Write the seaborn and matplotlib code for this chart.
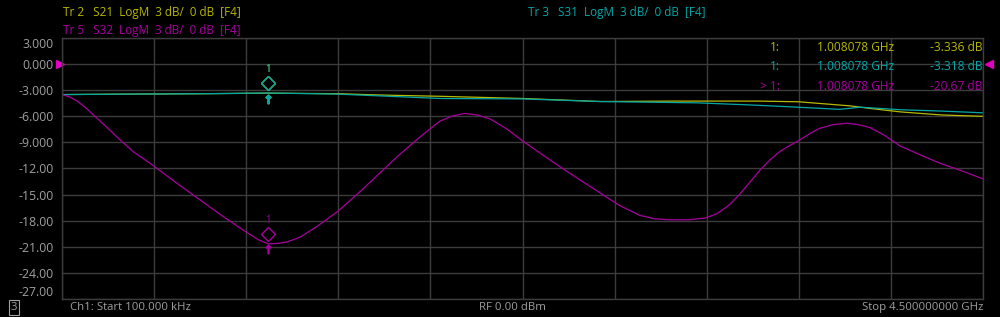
import numpy as np
import pandas as pd
import matplotlib
matplotlib.use("Agg")
import matplotlib.pyplot as plt
import matplotlib.transforms as mtransforms
import seaborn as sns

# ---------------- data ----------------
freq_s21 = [0.0001, 0.3, 0.7, 1.008078, 1.35, 1.55, 1.85, 2.25, 2.63, 3.0, 3.4, 3.6, 3.85, 3.95, 4.1, 4.3, 4.5]
s21_db = [-3.5, -3.45, -3.4, -3.336, -3.4, -3.55, -3.7, -3.95, -4.3, -4.25, -4.25, -4.33, -4.8, -5.1, -5.5, -5.85, -6.0]

freq_s31 = [0.0001, 0.3, 0.7, 1.008078, 1.35, 1.55, 1.85, 2.25, 2.63, 3.1, 3.37, 3.55, 3.8, 3.9, 4.1, 4.3, 4.5]
s31_db = [-3.5, -3.45, -3.4, -3.318, -3.45, -3.65, -3.95, -4.0, -4.3, -4.45, -4.7, -4.9, -5.2, -4.95, -5.25, -5.4, -5.6]

freq_s32 = [0.0001, 0.04, 0.072, 0.12, 0.17, 0.23, 0.283, 0.35, 0.43, 0.55, 0.674, 0.78, 0.899, 0.96,
            1.008078, 1.06, 1.10, 1.163, 1.25, 1.349, 1.45, 1.554, 1.64, 1.725, 1.79, 1.847, 1.91,
            1.969, 2.03, 2.091, 2.17, 2.252, 2.34, 2.433, 2.53, 2.629, 2.72, 2.824, 2.9, 2.971,
            3.06, 3.142, 3.2, 3.26, 3.31, 3.36, 3.41, 3.46, 3.51, 3.56, 3.606, 3.66, 3.70, 3.77,
            3.835, 3.89, 3.948, 4.02, 4.094, 4.19, 4.29, 4.4, 4.5]
s32_db = [-3.5, -3.8, -4.2, -5.1, -6.2, -7.5, -8.7, -10.1, -11.4, -13.5, -15.6, -17.4, -19.3, -20.2,
          -20.67, -20.6, -20.45, -19.9, -18.6, -16.9, -14.8, -12.5, -10.6, -8.85, -7.6, -6.55, -5.95,
          -5.67, -5.85, -6.3, -7.4, -8.85, -10.3, -11.8, -13.3, -14.8, -16.2, -17.4, -17.8, -17.9,
          -17.9, -17.7, -17.2, -16.2, -15.0, -13.6, -12.2, -11.0, -10.0, -9.3, -8.7, -7.9, -7.4, -6.95,
          -6.8, -6.95, -7.3, -8.2, -9.4, -10.4, -11.4, -12.3, -13.2]

marker_freq = 1.008078
marker_vals = {"S21": -3.336, "S31": -3.318, "S32": -20.67}

ytick_vals = [3, 0, -3, -6, -9, -12, -15, -18, -21, -24, -27]
ytick_labels = ["3.000", "0.000", "-3.000", "-6.000", "-9.000", "-12.00", "-15.00",
                "-18.00", "-21.00", "-24.00", "-27.00"]

f_start, f_stop = 0.0001, 4.5

YELLOW = "#b8b800"
CYAN = "#00a8a8"
MAGENTA = "#a800a0"
GRID = "#3c3c3c"
TXT = "#a0a0a0"

df = pd.concat([
    pd.DataFrame({"f": freq_s21, "db": s21_db, "tr": "S21"}),
    pd.DataFrame({"f": freq_s31, "db": s31_db, "tr": "S31"}),
    pd.DataFrame({"f": freq_s32, "db": s32_db, "tr": "S32"}),
], ignore_index=True)

sns.set_style("dark")
plt.rcParams["font.family"] = ["Open Sans", "DejaVu Sans"]

fig = plt.figure(figsize=(10, 3.17), dpi=100, facecolor="black")
ax = fig.add_axes([0.062, 0.057, 0.921, 0.823])
ax.set_facecolor("black")

palette = {"S21": YELLOW, "S31": CYAN, "S32": MAGENTA}
sns.lineplot(data=df, x="f", y="db", hue="tr", palette=palette, ax=ax,
             legend=False, linewidth=0.9, sort=False, estimator=None)

ax.set_xlim(f_start, f_stop)
ax.set_ylim(-27, 3)
ax.set_xticks(np.linspace(f_start, f_stop, 11))
ax.set_xticklabels([])
ax.set_yticks(ytick_vals)
ax.set_yticklabels(ytick_labels)
ax.tick_params(axis="y", colors=TXT, labelsize=8.8, length=0, pad=6)
ax.tick_params(axis="x", length=0)
ylbls = ax.get_yticklabels()
for lbl in ylbls:
    lbl.set_color(TXT)
ylbls[0].set_va("top")
ylbls[-1].set_va("bottom")
ax.grid(True, color=GRID, linewidth=1.0)
for sp in ax.spines.values():
    sp.set_color(GRID)
    sp.set_linewidth(1.0)
ax.set_xlabel("")
ax.set_ylabel("")

# reference triangles at 0 dB
blend = mtransforms.blended_transform_factory(ax.transAxes, ax.transData)
ax.plot([-0.002], [0], marker=">", color="#e000c0", markersize=6, clip_on=False,
        transform=blend, linestyle="none")
ax.plot([1.006], [0], marker="<", color="#e000c0", markersize=6, clip_on=False,
        transform=blend, linestyle="none")

# markers
def draw_marker(val, color):
    tr_d = mtransforms.offset_copy(ax.transData, fig=fig, y=7, units="points")
    ax.plot([marker_freq], [val], marker="D", markersize=7.5, markerfacecolor="none",
            markeredgecolor=color, markeredgewidth=1.0, transform=tr_d, linestyle="none")
    tr_t = mtransforms.offset_copy(ax.transData, fig=fig, y=13, units="points")
    ax.text(marker_freq, val, "1", color=color, fontsize=7, ha="center", va="bottom",
            transform=tr_t)
    tr_s = mtransforms.offset_copy(ax.transData, fig=fig, y=-4, units="points")
    ax.plot([marker_freq], [val], marker="$\u2191$", markersize=6, color=color,
            transform=tr_s, linestyle="none")

draw_marker(marker_vals["S21"], YELLOW)
draw_marker(marker_vals["S31"], CYAN)
draw_marker(marker_vals["S32"], MAGENTA)

# marker readouts
readouts = [("1:", "1.008078 GHz", "-3.336 dB", YELLOW),
            ("1:", "1.008078 GHz", "-3.318 dB", CYAN),
            ("> 1:", "1.008078 GHz", "-20.67 dB", MAGENTA)]
for i, (pre, fr, val, c) in enumerate(readouts):
    y = 0.965 - i * 0.076
    ax.text(0.779, y, pre, color=c, fontsize=8.6, ha="right", va="center", transform=ax.transAxes)
    ax.text(0.904, y, fr, color=c, fontsize=8.6, ha="right", va="center", transform=ax.transAxes)
    ax.text(0.999, y, val, color=c, fontsize=8.6, ha="right", va="center", transform=ax.transAxes)

# header
HFS = 8.5
fig.text(0.063, 0.962, "Tr 2   S21  LogM  3 dB/  0 dB  [F4]", color=YELLOW, fontsize=HFS, va="center")
fig.text(0.063, 0.905, "Tr 5   S32  LogM  3 dB/  0 dB  [F4]", color=MAGENTA, fontsize=HFS, va="center")
fig.text(0.528, 0.962, "Tr 3   S31  LogM  3 dB/  0 dB  [F4]", color=CYAN, fontsize=HFS, va="center")

# footer
FFS = 8.2
fig.text(0.014, 0.03, "3", color=TXT, fontsize=FFS, va="center", ha="center",
         bbox=dict(boxstyle="square,pad=0.15", fc="black", ec=TXT, lw=0.8))
fig.text(0.070, 0.03, "Ch1: Start 100.000 kHz", color=TXT, fontsize=FFS, va="center")
fig.text(0.512, 0.03, "RF 0.00 dBm", color=TXT, fontsize=FFS, va="center", ha="center")
fig.text(0.983, 0.03, "Stop 4.500000000 GHz", color=TXT, fontsize=FFS, va="center", ha="right")

fig.savefig("out.png", dpi=100, facecolor="black")
